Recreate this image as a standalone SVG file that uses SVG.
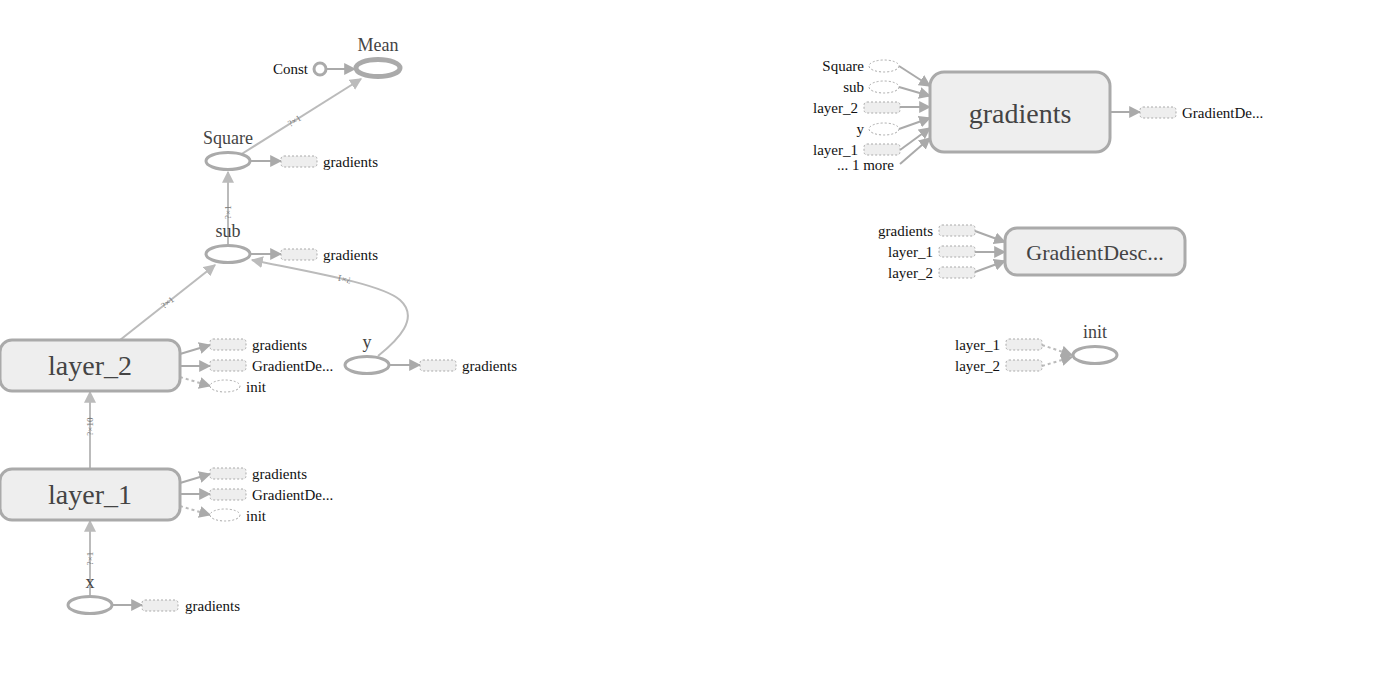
<svg xmlns="http://www.w3.org/2000/svg" width="1389" height="700" viewBox="0 0 1389 700">
<style>
text{font-family:"Liberation Serif","Times New Roman",serif;}
.nl{fill:#444;font-size:18px;text-anchor:middle;}
.bl{fill:#444;font-size:28px;text-anchor:middle;}
.al{fill:#111;font-size:15px;}
.ar{fill:#111;font-size:15px;text-anchor:end;}
.op{fill:#fff;stroke:#aaa;stroke-width:3;}
.meta{fill:#eee;stroke:#aaa;stroke-width:3;}
.ab{fill:#eee;stroke:#aaa;stroke-width:1;stroke-dasharray:2,2;}
.ae{fill:#fff;stroke:#aaa;stroke-width:1;stroke-dasharray:2,2;}
.e{fill:none;stroke:#bbb;stroke-width:2;marker-end:url(#arr);}
.ea{fill:none;stroke:#aaa;stroke-width:2;marker-end:url(#arr2);}
.ed{fill:none;stroke:#bbb;stroke-width:2;stroke-dasharray:3,3;marker-end:url(#arr2);}
.el{fill:#777;font-size:9px;}
</style>
<defs>
<marker id="arr" viewBox="0 0 10 10" refX="9" refY="5" markerWidth="12" markerHeight="12" orient="auto" markerUnits="userSpaceOnUse"><path d="M0,0 L10,5 L0,10 z" fill="#bbb"/></marker>
<marker id="arr2" viewBox="0 0 10 10" refX="9" refY="5" markerWidth="12" markerHeight="12" orient="auto" markerUnits="userSpaceOnUse"><path d="M0,0 L10,5 L0,10 z" fill="#aaa"/></marker>
</defs>
<rect width="1389" height="700" fill="#fff"/>

<g id="connectors">
<path id="p_sq_mean" class="e" d="M240,155 L361,79"/>
<path class="ea" d="M326,69 L355,69"/>
<path id="p_sub_sq" class="e" d="M228,245 L228,172"/>
<path id="p_l2_sub" class="e" d="M120,340 L215,265"/>
<path id="p_y_sub" class="e" d="M378,356 C398,340 420,318 400,300 C382,284 310,272 252,260"/>
<path id="p_l1_l2" class="e" d="M90,469 L90,392"/>
<path id="p_x_l1" class="e" d="M90,596 L90,521"/>
<text class="el" dy="3"><textPath href="#p_sq_mean" startOffset="45%" text-anchor="middle">?×1</textPath></text>
<text class="el" dy="3"><textPath href="#p_sub_sq" startOffset="45%" text-anchor="middle">?×1</textPath></text>
<text class="el" dy="3"><textPath href="#p_l2_sub" startOffset="50%" text-anchor="middle">?×1</textPath></text>
<text class="el" dy="3"><textPath href="#p_y_sub" startOffset="58%" text-anchor="middle">?×1</textPath></text>
<text class="el" dy="3"><textPath href="#p_l1_l2" startOffset="55%" text-anchor="middle">?×10</textPath></text>
<text class="el" dy="3"><textPath href="#p_x_l1" startOffset="50%" text-anchor="middle">?×1</textPath></text>
<path class="ea" d="M251,161 L281,161"/>
<path class="ea" d="M251,254 L281,254"/>
<path class="ea" d="M389,365 L420,365"/>
<path class="ea" d="M180,354 L210,345"/>
<path class="ea" d="M180,366 L210,366"/>
<path class="ed" d="M180,377 L210,386"/>
<path class="ea" d="M180,483 L210,474"/>
<path class="ea" d="M180,494 L210,494"/>
<path class="ed" d="M180,506 L210,515"/>
<path class="ea" d="M112,605 L142,605"/>
<path class="ea" d="M899,66 L930,86"/>
<path class="ea" d="M899,87 L930,96"/>
<path class="ea" d="M900,107 L930,107"/>
<path class="ea" d="M899,129 L930,118"/>
<path class="ea" d="M900,150 L930,128"/>
<path class="ea" d="M900,164 L930,138"/>
<path class="ea" d="M1110,112 L1140,112"/>
<path class="ea" d="M975,231 L1005,242"/>
<path class="ea" d="M975,252 L1005,252"/>
<path class="ea" d="M975,272 L1005,261"/>
<path class="ed" d="M1042,345 L1072,355"/>
<path class="ed" d="M1042,366 L1072,357"/>
</g>

<g id="node-mean">
<ellipse cx="378" cy="68" rx="22" ry="8.5" fill="#fff" stroke="#aaa" stroke-width="5"/>
<text class="nl" x="378" y="51">Mean</text>
</g>
<g id="node-const">
<circle cx="320" cy="69" r="6" class="op" stroke-width="2.5"/>
<text class="ar" x="308" y="74">Const</text>
</g>
<g id="node-square">
<ellipse cx="228" cy="161" rx="22" ry="8.5" class="op"/>
<text class="nl" x="228" y="144">Square</text>
<rect class="ab" x="281" y="156" width="36" height="11" rx="3"/>
<text class="al" x="323" y="167">gradients</text>
</g>
<g id="node-sub">
<ellipse cx="228" cy="254" rx="22" ry="8.5" class="op"/>
<text class="nl" x="228" y="237">sub</text>
<rect class="ab" x="281" y="249" width="36" height="11" rx="3"/>
<text class="al" x="323" y="260">gradients</text>
</g>
<g id="node-y">
<ellipse cx="367" cy="365" rx="22" ry="8.5" class="op"/>
<text class="nl" x="367" y="348">y</text>
<rect class="ab" x="420" y="360" width="36" height="11" rx="3"/>
<text class="al" x="462" y="371">gradients</text>
</g>
<g id="node-layer_2">
<rect class="meta" x="0" y="340" width="180" height="51" rx="12"/>
<text class="bl" x="90" y="375">layer_2</text>
<rect class="ab" x="210" y="339" width="36" height="11" rx="3"/>
<text class="al" x="252" y="350">gradients</text>
<rect class="ab" x="210" y="360" width="36" height="11" rx="3"/>
<text class="al" x="252" y="371">GradientDe...</text>
<ellipse class="ae" cx="225" cy="386" rx="15" ry="6"/>
<text class="al" x="246" y="392">init</text>
</g>
<g id="node-layer_1">
<rect class="meta" x="0" y="469" width="180" height="51" rx="12"/>
<text class="bl" x="90" y="504">layer_1</text>
<rect class="ab" x="210" y="468" width="36" height="11" rx="3"/>
<text class="al" x="252" y="479">gradients</text>
<rect class="ab" x="210" y="489" width="36" height="11" rx="3"/>
<text class="al" x="252" y="500">GradientDe...</text>
<ellipse class="ae" cx="225" cy="515" rx="15" ry="6"/>
<text class="al" x="246" y="521">init</text>
</g>
<g id="node-x">
<ellipse cx="90" cy="605" rx="22" ry="8.5" class="op"/>
<text class="nl" x="90" y="588">x</text>
<rect class="ab" x="142" y="600" width="36" height="11" rx="3"/>
<text class="al" x="185" y="611">gradients</text>
</g>

<g id="node-gradients">
<rect class="meta" x="930" y="72" width="180" height="80" rx="14"/>
<text class="bl" x="1020" y="123">gradients</text>
<ellipse class="ae" cx="884" cy="66" rx="15" ry="6"/>
<text class="ar" x="864" y="71">Square</text>
<ellipse class="ae" cx="884" cy="87" rx="15" ry="6"/>
<text class="ar" x="864" y="92">sub</text>
<rect class="ab" x="864" y="102" width="36" height="11" rx="3"/>
<text class="ar" x="858" y="113">layer_2</text>
<ellipse class="ae" cx="884" cy="129" rx="15" ry="6"/>
<text class="ar" x="864" y="134">y</text>
<rect class="ab" x="864" y="144" width="36" height="11" rx="3"/>
<text class="ar" x="858" y="155">layer_1</text>
<text class="ar" x="894" y="170">... 1 more</text>
<rect class="ab" x="1140" y="107" width="36" height="11" rx="3"/>
<text class="al" x="1182" y="118">GradientDe...</text>
</g>
<g id="node-gradientdesc">
<rect class="meta" x="1005" y="228" width="180" height="47" rx="12"/>
<text class="nl" x="1095" y="260" style="font-size:22px">GradientDesc...</text>
<rect class="ab" x="939" y="225" width="36" height="11" rx="3"/>
<text class="ar" x="933" y="236">gradients</text>
<rect class="ab" x="939" y="246" width="36" height="11" rx="3"/>
<text class="ar" x="933" y="257">layer_1</text>
<rect class="ab" x="939" y="267" width="36" height="11" rx="3"/>
<text class="ar" x="933" y="278">layer_2</text>
</g>
<g id="node-init">
<ellipse cx="1095" cy="355" rx="22" ry="8.5" class="op"/>
<text class="nl" x="1095" y="338">init</text>
<rect class="ab" x="1006" y="339" width="36" height="11" rx="3"/>
<text class="ar" x="1000" y="350">layer_1</text>
<rect class="ab" x="1006" y="360" width="36" height="11" rx="3"/>
<text class="ar" x="1000" y="371">layer_2</text>
</g>
</svg>
